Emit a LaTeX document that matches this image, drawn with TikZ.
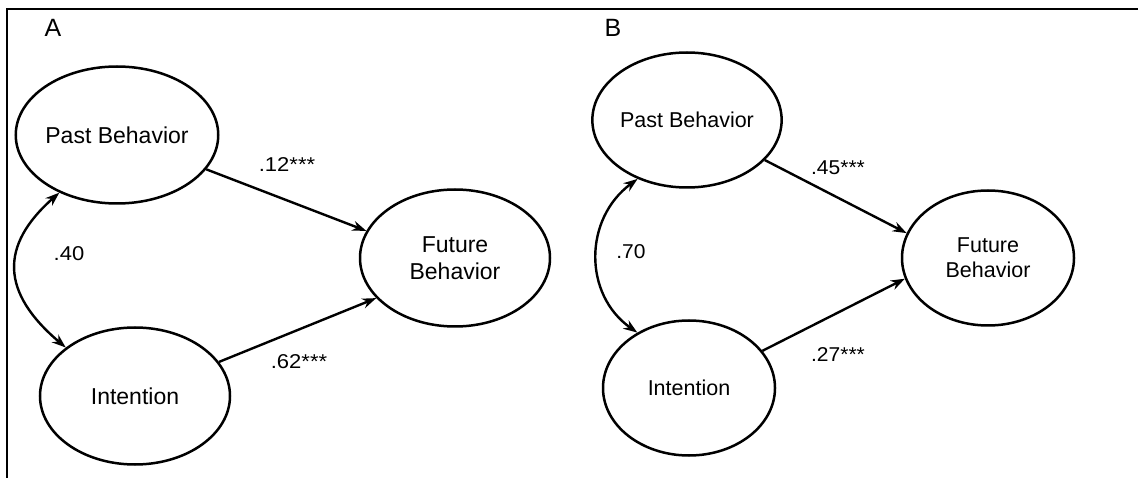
\documentclass[tikz,border=0pt]{standalone}
\usepackage{fontspec}
\setmainfont{Liberation Sans}
\usetikzlibrary{shapes.geometric,arrows.meta}
\begin{document}
\begin{tikzpicture}[x=1pt,y=-1pt,
  latent/.style={ellipse,draw,line width=2.5pt,inner sep=0pt,align=center},
  varA/.style={latent,minimum width=190pt,minimum height=137pt,font=\fontsize{23}{27}\selectfont},
  varB/.style={latent,minimum width=172pt,minimum height=135pt,font=\fontsize{21.5}{25}\selectfont},
  effect/.style={line width=2.4pt,-{Stealth[length=14pt,width=10pt]}},
  corr/.style={line width=2.4pt,{Stealth[length=14pt,width=10pt]}-{Stealth[length=14pt,width=10pt]}},
  coef/.style={inner sep=0pt,font=\fontsize{20}{24}\selectfont},
  panel/.style={inner sep=0pt,font=\fontsize{25}{29}\selectfont}
]
\useasboundingbox (0,0) rectangle (1138,478);
% frame
\draw[line width=2.2pt] (7,478) -- (7,9) -- (1138,9);

% ---------- panel A ----------
\node[panel] (lA) at (53,28) {A};
\node[varA] (pa) at (117,135) {Past Behavior};
\node[varA] (ia) at (135,396) {Intention};
\node[varA] (fa) at (455,258) {Future\\Behavior};
\draw[effect] (pa) -- (fa.163);
\draw[effect] (ia) -- (fa.207);
\draw[corr] (pa.225) .. controls +(-60,53) and +(-65,-55) .. (ia.145);
\node[coef] (ca1) at (287,165) {\scalebox{1.1}[1]{.12***}};
\node[coef] (ca2) at (299,362) {\scalebox{1.1}[1]{.62***}};
\node[coef] (ca3) at (69,254) {\scalebox{1.1}[1]{.40}};

% ---------- panel B ----------
\node[panel] (lB) at (613,28) {B};
\node[varB] (pb) at (687,120) {Past Behavior};
\node[varB] (ib) at (689,388) {Intention};
\node[varB] (fb) at (988,258) {Future\\Behavior};
\draw[effect] (pb) -- (fb.163);
\draw[effect] (ib) -- (fb.194);
\draw[corr] (pb.230) .. controls +(-54,40) and +(-54,-38) .. (ib.133);
\node[coef] (cb1) at (838,168) {\scalebox{1.05}[1]{.45***}};
\node[coef] (cb2) at (838,355) {\scalebox{1.05}[1]{.27***}};
\node[coef] (cb3) at (631,252) {\scalebox{1.05}[1]{.70}};
\end{tikzpicture}
\end{document}
